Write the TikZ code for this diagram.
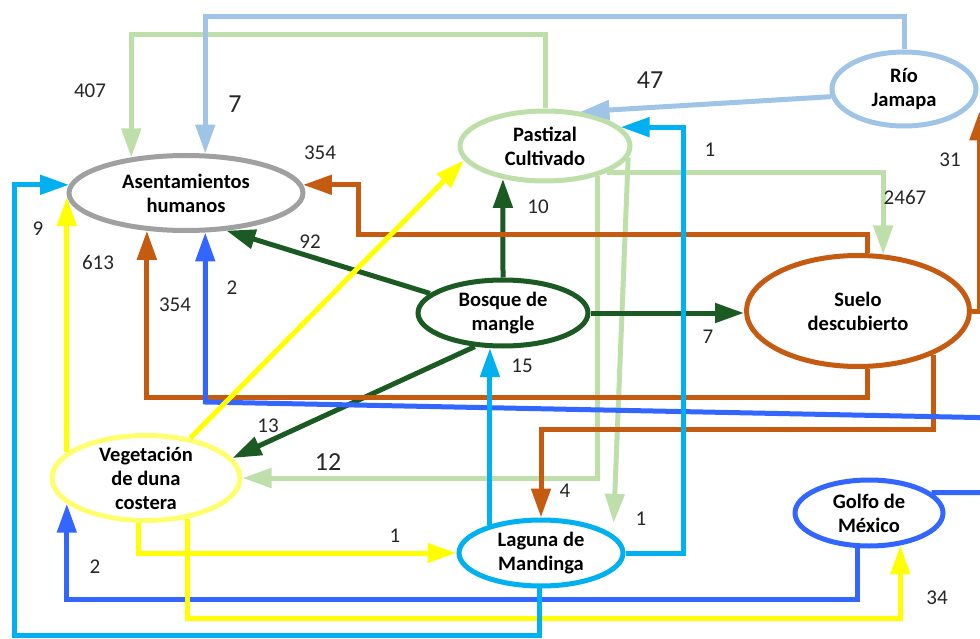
\documentclass[tikz,border=0pt]{standalone}
\usepackage{fontspec}
\setmainfont{Carlito}
\usetikzlibrary{shapes.geometric,arrows.meta,positioning}

\definecolor{gris}{RGB}{160,160,160}
\definecolor{verdecl}{RGB}{190,222,170}
\definecolor{azulcl}{RGB}{160,196,230}
\definecolor{verdeos}{RGB}{28,90,36}
\definecolor{naranja}{RGB}{197,90,17}
\definecolor{amarillo}{RGB}{255,255,0}
\definecolor{amarillocl}{RGB}{255,255,110}
\definecolor{cian}{RGB}{0,176,240}
\definecolor{azul}{RGB}{51,102,255}

\tikzset{
  uso/.style={ellipse, line width=5pt, fill=white, inner sep=0pt, align=center,
    font=\bfseries\fontsize{20.5}{24}\selectfont},
  flujo/.style={line width=5pt, -{Triangle[length=29pt,width=19pt]}},
  cifra/.style={font=\fontsize{21}{24}\selectfont, text=black!85},
  cifrag/.style={font=\fontsize{26}{30}\selectfont, text=black!85}
}

\begin{document}
\begin{tikzpicture}[x=1pt,y=-1pt]
\useasboundingbox (0,0) rectangle (980,639);
\clip (0,0) rectangle (980,639);

\node[uso, draw=gris, minimum width=234pt, minimum height=75pt] (asent) at (186,193) {Asentamientos\\humanos};
\node[uso, draw=verdecl, minimum width=170pt, minimum height=70pt] (past) at (545,146) {Pastizal\\Cultivado};
\node[uso, draw=azulcl, minimum width=144pt, minimum height=74pt] (rio) at (904,89) {Río\\Jamapa};
\node[uso, draw=verdeos, minimum width=170pt, minimum height=66pt] (bosq) at (503,313) {Bosque de\\mangle};
\node[uso, draw=naranja, minimum width=223pt, minimum height=111pt] (suelo) at (858,311) {Suelo\\descubierto};
\node[uso, draw=amarillocl, inner sep=-4pt, minimum width=188pt, minimum height=85pt] (veg) at (146,478) {Vegetación\\de duna\\costera};
\node[uso, draw=cian, minimum width=164pt, minimum height=66pt] (lag) at (541,553) {Laguna de\\Mandinga};
\node[uso, draw=azul, minimum width=148pt, minimum height=66pt] (golfo) at (869,513) {Golfo de\\México};

\coordinate (topG) at (0,35);
\coordinate (topB) at (0,17);
\coordinate (cO) at (358,235);
\coordinate (bl) at (0,402);

% pastizal
\draw[flujo, verdecl] (past.north) -- (past.north |- topG) -| (asent.147);
\draw[flujo, verdecl] (past.-23) -| (suelo.66);
\draw[flujo, verdecl] (past.-30) |- (veg.east);
\draw[flujo, verdecl] (past.-8) -- ([yshift=12pt]lag.14);

% rio
\draw[flujo, azulcl] (rio.north) -- (rio.north |- topB) -| (asent.64);
\draw[flujo, azulcl] (rio.186) -- (past.44);

% bosque
\draw[flujo, verdeos] (bosq.north) -- (past.218);
\draw[flujo, verdeos] (bosq.165) -- (asent.-43);
\draw[flujo, verdeos] (bosq.east) -- (bosq.east -| suelo.west);
\draw[flujo, verdeos] (bosq.230) -- (veg.13);

% suelo
\draw[flujo, naranja] (suelo.81) |- (cO) |- (asent.4);
\draw[flujo, naranja] (suelo.-81) -- ++(0,29) -| (asent.224);
\draw[flujo, naranja] (suelo.-30) -- ++(0,75) -| (lag.north);
\draw[flujo, naranja] (suelo.east) -| ([xshift=14pt]rio.-20);

% golfo
\draw[flujo, azul] (golfo.18) -- ++(52,0) -- ++(0,-75) -- (bl -| asent.-64) -- (asent.-64);
\draw[flujo, azul] (golfo.252) -- ++(0,51) -| (veg.198);

% vegetacion
\draw[flujo, amarillo] (veg.162) -- (veg.162 |- asent.182);
\draw[flujo, amarillo] (veg.42) -- (past.190);
\draw[flujo, amarillo] (veg.260) |- (lag.west);
\draw[flujo, amarillo] (veg.-44) -- ++(0,100) -| (golfo.-46);

% laguna
\draw[flujo, cian] (lag.151) -- (lag.151 |- bosq.251);
\draw[flujo, cian] (lag.east) -- ++(58,0) |- (past.14);
\draw[flujo, cian] (lag.267) -- ++(0,47) -| ([xshift=-54.5pt]asent.176) -- (asent.176);

\node[cifra] (c407) at (90,91) {407};
\node[cifrag] (c7a) at (235,104) {7};
\node[cifra] (c354a) at (320,153) {354};
\node[cifrag] (c47) at (650,80) {47};
\node[cifra] (c1a) at (710,150) {1};
\node[cifra] (c31) at (950,160) {31};
\node[cifra] (c2467) at (905,197) {2467};
\node[cifra] (c10) at (538,207) {10};
\node[cifra] (c92) at (310,242) {92};
\node[cifra] (c9) at (38,229) {9};
\node[cifra] (c613) at (98,262) {613};
\node[cifra] (c2a) at (232,288) {2};
\node[cifra] (c354b) at (175,305) {354};
\node[cifra] (c7b) at (708,337) {7};
\node[cifra] (c15) at (522,366) {15};
\node[cifra] (c13) at (268,426) {13};
\node[cifrag] (c12) at (328,462) {12};
\node[cifra] (c4) at (565,491) {4};
\node[cifra] (c1b) at (395,536) {1};
\node[cifra] (c1c) at (641,519) {1};
\node[cifra] (c2b) at (95,567) {2};
\node[cifra] (c34) at (937,598) {34};

\end{tikzpicture}
\end{document}
